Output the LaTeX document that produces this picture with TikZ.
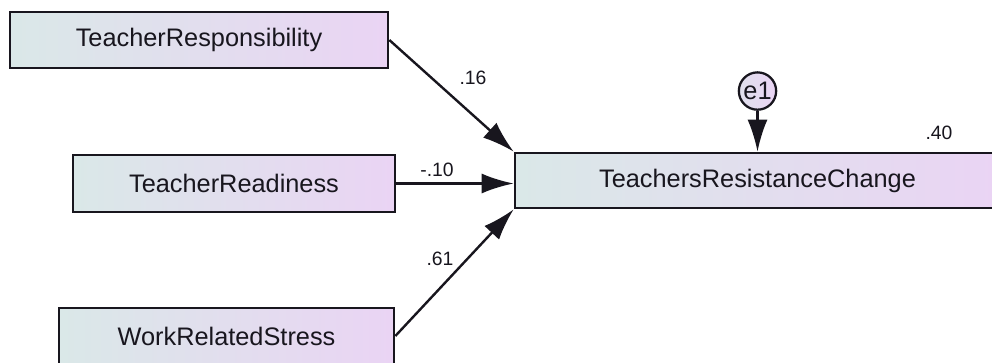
\documentclass[tikz,border=0pt]{standalone}
\usepackage{fontspec}
\setmainfont{Liberation Sans}
\usepackage{xcolor}
\usepackage{tikz}
\usetikzlibrary{calc, arrows.meta, shapes, positioning}
\definecolor{boxleft}{RGB}{218,232,232}
\definecolor{boxright}{RGB}{234,212,244}
\definecolor{inkcol}{RGB}{24,22,30}
\tikzset{
    rectanglenode/.style = {draw=inkcol, rectangle, line width=2pt, inner sep = 0em,
      left color=boxleft, right color=boxright, node distance=0em,
      text=inkcol, font=\fontsize{19}{22}\selectfont},
    circlenode/.style = {circle, draw=inkcol, line width=1.7pt, inner sep = 0em,
      left color=boxleft!60!boxright, right color=boxright, minimum size=28pt,
      node distance=0em, text=inkcol, font=\fontsize{19}{22}\selectfont},
    textnode/.style  = {draw=none, fill=none, rectangle, inner sep = 0em,
      text=inkcol, font=\fontsize{14.5}{17}\selectfont},
    connect/.style = {inkcol, line width=1.8pt, -{Latex[length=24pt,width=15pt]}},
}

\begin{document}
\begin{tikzpicture}[x=0.75pt, y=-0.75pt]
    \useasboundingbox (0,0) rectangle (992,363);

    % observed variables
    \node [name=resp, rectanglenode, minimum width=283.5pt, minimum height=42pt]
        at (199,40) {TeacherResponsibility};
    \node [name=ready, rectanglenode, minimum width=241.5pt, minimum height=42.75pt]
        at (234,183.5) {TeacherReadiness};
    \node [name=stress, rectanglenode, minimum width=251.25pt, minimum height=42pt]
        at (226.5,336) {WorkRelatedStress};
    \node [name=change, rectanglenode, minimum width=363.75pt, minimum height=41.25pt]
        at (757.5,180.5) {TeachersResistanceChange};

    % error term
    \node [name=e1, circlenode, above of = change, yshift=67.1pt] {e1};

    % paths
    \draw [connect] (resp.east) -- (change.north west);
    \draw [connect] (ready.east) -- (ready.east -| change.west);
    \draw [connect] (stress.east) -- (change.south west);
    \draw [connect] (e1.south) -- (e1.south |- change.north);

    % estimates
    \node [name=w16, textnode] at (473,78) {.16};
    \node [name=w10, textnode] at (437,170) {-.10};
    \node [name=w61, textnode] at (440,259) {.61};
    \node [name=r40, textnode] at (939,133) {.40};
\end{tikzpicture}
\end{document}
